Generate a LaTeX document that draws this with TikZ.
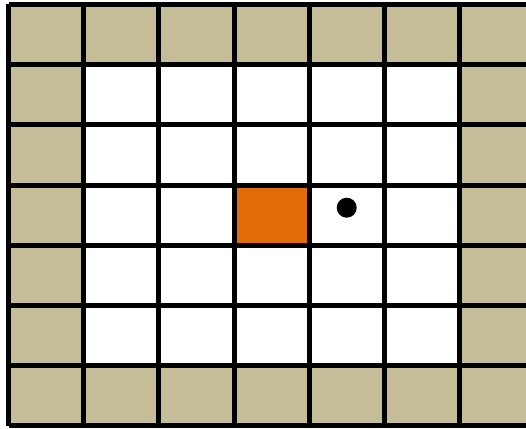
\documentclass[tikz,border=0pt]{standalone}
\usepackage{tikz}

\definecolor{wallcol}{HTML}{C4BD97}
\definecolor{agentcol}{HTML}{E36C0A}

\tikzset{
  wall/.style={fill=wallcol},
  agent/.style={fill=agentcol},
  gridline/.style={line width=3.75pt, black},
}

\begin{document}
\begin{tikzpicture}[x=56.38pt, y=-45.13pt]
  % Frame of the picture (grid runs off on the right and at the bottom)
  \useasboundingbox (-0.1131,-0.0748) rectangle (6.884,7.038);
  \clip (-0.1131,-0.0748) rectangle (6.884,7.038);

  % Wall cells round the border
  \foreach \i in {0,...,6} {
    \fill[wall] (\i,0) rectangle ++(1,1);
    \fill[wall] (\i,6) rectangle ++(1,1);
    \fill[wall] (0,\i) rectangle ++(1,1);
    \fill[wall] (6,\i) rectangle ++(1,1);
  }

  % Occupied cell
  \fill[agent] (3,3) rectangle (4,4);

  % Grid lines
  \foreach \k in {0,...,7} {
    \draw[gridline] (\k,0) -- (\k,7);
    \draw[gridline] (0,\k) -- (7,\k);
  }

  % Target point
  \fill (4.499,3.377) circle (7.5pt);
\end{tikzpicture}
\end{document}
